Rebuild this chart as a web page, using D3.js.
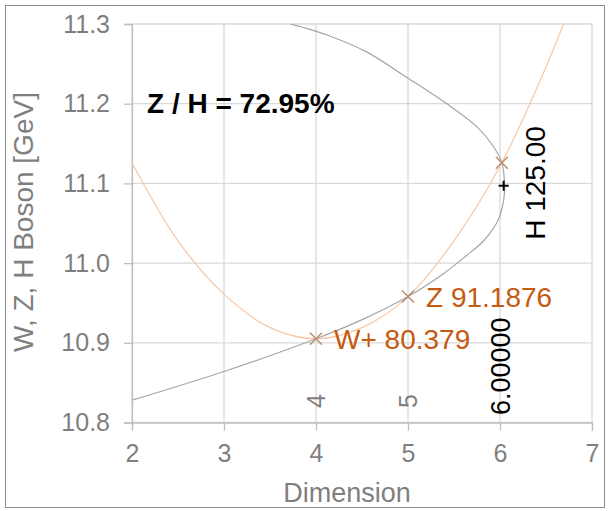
<!DOCTYPE html>
<html>
<head>
<meta charset="utf-8">
<script src="https://cdn.jsdelivr.net/npm/d3@7"></script>
<style>
  html, body { margin: 0; padding: 0; background: #fff; }
  svg { display: block; font-family: "Liberation Sans", Arial, sans-serif; }
</style>
</head>
<body>
<svg id="chart" width="610" height="511"></svg>
<script>
// ---- data ----
const xTicks = [2, 3, 4, 5, 6, 7];
const yTicks = [10.8, 10.9, 11.0, 11.1, 11.2, 11.3];
// gray curve (sideways), ordered along the curve from top-left to bottom-left
const grayX = [3.72, 3.88, 4.15, 4.55, 5.00, 5.47, 5.75, 5.93, 6.02, 6.05, 6.04, 5.98, 5.83, 5.63, 5.40, 5.00, 4.52, 4.00, 3.00, 2.00];
const grayY = [11.300, 11.295, 11.285, 11.265, 11.232, 11.196, 11.171, 11.146, 11.126, 11.097, 11.079, 11.054, 11.029, 11.009, 10.988, 10.958, 10.930, 10.905, 10.864, 10.828];
// orange curve
const orangeX = [2.00, 2.50, 3.00, 3.50, 4.00, 4.50, 5.00, 5.50, 6.02, 6.50, 6.69];
const orangeY = [11.126, 11.028, 10.961, 10.919, 10.905, 10.919, 10.958, 11.028, 11.126, 11.246, 11.300];
// crossing markers
const crossX = [4.00, 5.00, 6.02];
const crossY = [10.905, 10.958, 11.126];
const crossLabels = ["W+ 80.379", "Z 91.1876", ""];
// Higgs marker
const higgsX = [6.04];
const higgsY = [11.097];
const higgsLabel = "H 125.00";
// vertical value labels at the bottom
const dimLabelX = [4, 5, 6];
const dimLabels = ["4", "5", "6.00000"];
const ratioText = "Z / H = 72.95%";
const xTitle = "Dimension";
const yTitle = "W, Z, H Boson [GeV]";

// ---- drawing ----
const svg = d3.select("#chart");
const x = d3.scaleLinear().domain([2, 7]).range([132, 592]);
const y = d3.scaleLinear().domain([10.8, 11.3]).range([422.5, 24]);

// outer frame
svg.append("rect").attr("x", 5.5).attr("y", 5.5).attr("width", 599).attr("height", 502)
  .attr("fill", "#fff").attr("stroke", "#8c8c8c").attr("stroke-width", 1);

// gridlines
const grid = svg.append("g");
grid.selectAll("line.v").data(xTicks).join("line")
  .attr("x1", d => x(d)).attr("x2", d => x(d)).attr("y1", y(11.3)).attr("y2", y(10.8))
  .attr("stroke", "#d9d9d9").attr("stroke-width", 1.3);
grid.selectAll("line.h").data(yTicks).join("line")
  .attr("x1", x(2)).attr("x2", x(7)).attr("y1", d => y(d)).attr("y2", d => y(d))
  .attr("stroke", "#d9d9d9").attr("stroke-width", 1.3);

// axes
const fmt = d3.format(".1f");
const yAxis = svg.append("g").attr("transform", `translate(${x(2)},0)`)
  .call(d3.axisLeft(y).tickValues(yTicks).tickFormat(fmt).tickSize(8).tickPadding(14));
const xAxis = svg.append("g").attr("transform", `translate(0,${y(10.8)})`)
  .call(d3.axisBottom(x).tickValues(xTicks).tickFormat(d3.format("d")).tickSize(8).tickPadding(14));
[yAxis, xAxis].forEach(a => {
  a.select(".domain").attr("stroke", "#bfbfbf").attr("stroke-width", 1.3);
  a.selectAll(".tick line").attr("stroke", "#bfbfbf").attr("stroke-width", 1.3);
  a.selectAll(".tick text").attr("fill", "#7f7f7f").attr("font-size", 25)
    .attr("font-family", "'Liberation Sans', Arial, sans-serif");
});

// clip for curves
svg.append("clipPath").attr("id", "plot").append("rect")
  .attr("x", x(2)).attr("y", y(11.3)).attr("width", x(7) - x(2)).attr("height", y(10.8) - y(11.3));

const line = d3.line().x(d => x(d[0])).y(d => y(d[1])).curve(d3.curveCatmullRom.alpha(0.5));
svg.append("path").datum(orangeX.map((v, i) => [v, orangeY[i]]))
  .attr("d", line).attr("fill", "none").attr("stroke", "#f8c6a5").attr("stroke-width", 1.2)
  .attr("clip-path", "url(#plot)");
svg.append("path").datum(grayX.map((v, i) => [v, grayY[i]]))
  .attr("d", line).attr("fill", "none").attr("stroke", "#a6a6a6").attr("stroke-width", 1.2)
  .attr("clip-path", "url(#plot)");

// cross markers
const s = 6;
const crosses = svg.append("g");
crossX.forEach((cx, i) => {
  const px = x(cx), py = y(crossY[i]);
  crosses.append("path")
    .attr("d", `M${px - s},${py - s}L${px + s},${py + s}M${px - s},${py + s}L${px + s},${py - s}`)
    .attr("stroke", "#b98a6e").attr("stroke-width", 1.4).attr("fill", "none");
  if (crossLabels[i]) {
    svg.append("text").attr("x", px + 18).attr("y", py + 10)
      .attr("font-size", 28).attr("fill", "#c55a11").text(crossLabels[i]);
  }
});

// Higgs marker
higgsX.forEach((hx, i) => {
  const px = x(hx), py = y(higgsY[i]);
  svg.append("path").attr("d", `M${px - 5},${py}L${px + 5},${py}M${px},${py - 5}L${px},${py + 5}`)
    .attr("stroke", "#000").attr("stroke-width", 2);
  svg.append("text").attr("transform", `translate(${px + 41},${py + 54}) rotate(-90)`)
    .attr("font-size", 28).attr("fill", "#000").text(higgsLabel);
});

// vertical value labels
dimLabels.forEach((t, i) => {
  const big = t.length > 1;
  svg.append("text")
    .attr("transform", `translate(${x(dimLabelX[i]) + (big ? 10 : 9)},${big ? 415 : 408}) rotate(-90)`)
    .attr("font-size", big ? 27 : 25).attr("fill", big ? "#000" : "#7f7f7f").text(t);
});

// ratio annotation
svg.append("text").attr("x", 147).attr("y", 113).attr("font-size", 28)
  .attr("font-weight", "bold").attr("fill", "#000").text(ratioText);

// axis titles
svg.append("text").attr("x", (x(2) + x(7)) / 2 - 15).attr("y", 502).attr("text-anchor", "middle")
  .attr("font-size", 27).attr("fill", "#7f7f7f").text(xTitle);
svg.append("text").attr("transform", `translate(33,222) rotate(-90)`).attr("text-anchor", "middle")
  .attr("font-size", 28).attr("fill", "#7f7f7f").text(yTitle);
</script>
</body>
</html>
